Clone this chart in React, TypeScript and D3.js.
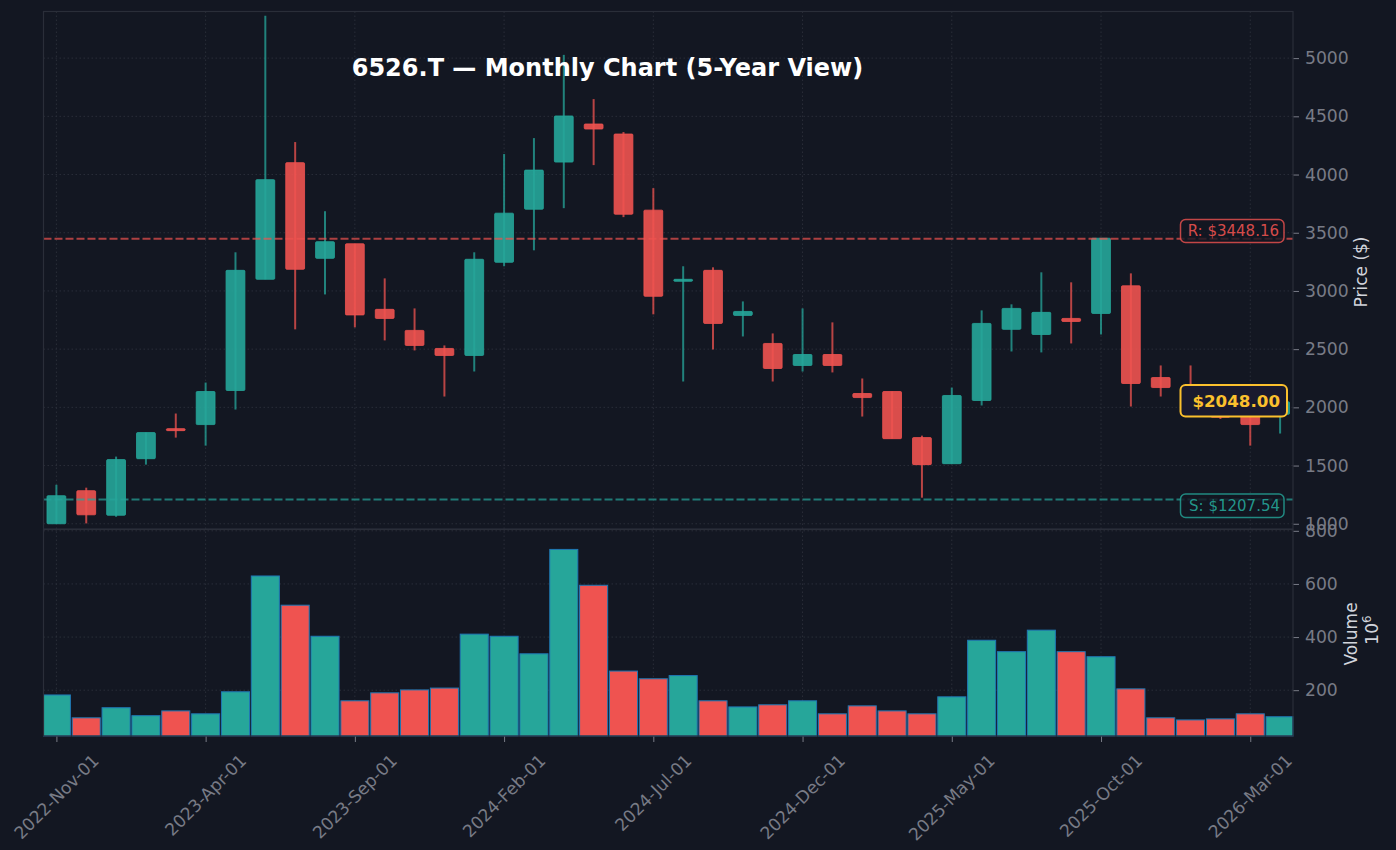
import React, { useEffect, useRef } from 'react';
import * as d3 from 'd3';

const months = [
  '2022-Nov-01', '2022-Dec-01', '2023-Jan-01', '2023-Feb-01', '2023-Mar-01', '2023-Apr-01', '2023-May-01',
  '2023-Jun-01', '2023-Jul-01', '2023-Aug-01', '2023-Sep-01', '2023-Oct-01', '2023-Nov-01', '2023-Dec-01',
  '2024-Jan-01', '2024-Feb-01', '2024-Mar-01', '2024-Apr-01', '2024-May-01', '2024-Jun-01', '2024-Jul-01',
  '2024-Aug-01', '2024-Sep-01', '2024-Oct-01', '2024-Nov-01', '2024-Dec-01', '2025-Jan-01', '2025-Feb-01',
  '2025-Mar-01', '2025-Apr-01', '2025-May-01', '2025-Jun-01', '2025-Jul-01', '2025-Aug-01', '2025-Sep-01',
  '2025-Oct-01', '2025-Nov-01', '2025-Dec-01', '2026-Jan-01', '2026-Feb-01', '2026-Mar-01', '2026-Apr-01',
];
const opens = [
  1000, 1284, 1073, 1559, 1817, 1852, 2145, 3100, 4102, 3280, 3405, 2842, 2661, 2506,
  2446, 3246, 3702, 4107, 4434, 4348, 3694, 3083, 3177, 2790, 2549, 2360, 2454, 2119,
  2136, 1740, 1516, 2059, 2670, 2626, 2764, 2807, 3044, 2256, 2170, 2030, 1960, 1940,
];
const highs = [
  1335, 1310, 1577, 1783, 1947, 2213, 3332, 5363, 4279, 3685, 3405, 3108, 2850, 2532,
  3332, 4176, 4313, 5028, 4648, 4365, 3883, 3212, 3203, 2910, 2635, 2850, 2730, 2248,
  2136, 1757, 2170, 2833, 2885, 3160, 3074, 3453, 3151, 2360, 2360, 2060, 1990, 2058,
];
const lows = [
  1000, 1003, 1060, 1508, 1740, 1671, 1981, 3100, 2670, 2970, 2687, 2575, 2489, 2093,
  2308, 3212, 3349, 3711, 4081, 3634, 2799, 2222, 2497, 2609, 2222, 2308, 2300, 1921,
  1731, 1224, 1516, 2016, 2480, 2472, 2549, 2626, 2007, 2093, 1960, 1900, 1671, 1775,
];
const closes = [
  1241, 1077, 1551, 1783, 1800, 2136, 3177, 3956, 3186, 3423, 2794, 2764, 2532, 2446,
  3272, 3668, 4038, 4503, 4391, 3659, 2954, 3100, 2721, 2824, 2334, 2454, 2360, 2084,
  1731, 1508, 2102, 2721, 2850, 2816, 2738, 3453, 2205, 2170, 2040, 1915, 1852, 2048,
];
const volumes = [
  182, 96, 134, 104, 122, 111, 194, 630, 520, 403, 160, 190, 201, 208,
  411, 403, 337, 730, 595, 272, 243, 255, 160, 137, 145, 160, 111, 141,
  122, 111, 175, 388, 345, 426, 345, 326, 205, 96, 88, 92, 111, 100,
];
const priceTicks = [1000, 1500, 2000, 2500, 3000, 3500, 4000, 4500, 5000];
const volumeTicks = [200, 400, 600, 800];
const resistance = 3448.16;
const support = 1207.54;
const lastPrice = 2048;

const BG = '#131722';
const SPINE = '#2a2e39';
const MUTED = '#787b86';
const LABEL = '#d1d4dc';
const UP = '#26a69a';
const DOWN = '#ef5350';
const GOLD = '#fbc02d';
const FONT = '"DejaVu Sans", sans-serif';

export default function App() {
  const svgRef = useRef<SVGSVGElement>(null);

  useEffect(() => {
    if (!svgRef.current) return;
    const svg = d3.select(svgRef.current);
    svg.selectAll('*').remove();

    const left = 43.5;
    const right = 1293;
    const priceTop = 11.5;
    const priceBottom = 529;
    const volTop = 529.5;
    const volBottom = 736;

    const x = d3.scaleLinear().domain([-0.432, 41.432]).range([left, right]);
    const y = d3.scaleLinear().domain([955, 5400.5]).range([priceBottom, priceTop]);
    const yVol = d3.scaleLinear().domain([27.5, 805]).range([volBottom, volTop]);
    const step = x(1) - x(0);
    const tickIdx = d3.range(0, months.length, 5);
    const isUp = (i: number) => closes[i] >= opens[i];

    // Grid, both panels
    const grid = svg.append('g')
      .attr('stroke', SPINE)
      .attr('stroke-width', 1)
      .attr('stroke-dasharray', '1.5,2.5');
    tickIdx.forEach((i) => {
      grid.append('line').attr('x1', x(i)).attr('x2', x(i)).attr('y1', priceTop).attr('y2', volBottom);
    });
    priceTicks.forEach((t) => {
      grid.append('line').attr('x1', left).attr('x2', right).attr('y1', y(t)).attr('y2', y(t));
    });
    volumeTicks.forEach((t) => {
      grid.append('line').attr('x1', left).attr('x2', right).attr('y1', yVol(t)).attr('y2', yVol(t));
    });

    // Candles
    const candleW = step * 0.63;
    const candles = svg.append('g');
    months.forEach((_, i) => {
      const color = isUp(i) ? UP : DOWN;
      candles.append('line')
        .attr('x1', x(i)).attr('x2', x(i))
        .attr('y1', y(highs[i])).attr('y2', y(lows[i]))
        .attr('stroke', color)
        .attr('stroke-width', 2)
        .attr('opacity', 0.75);
      const top = y(Math.max(opens[i], closes[i]));
      const bottom = y(Math.min(opens[i], closes[i]));
      candles.append('rect')
        .attr('x', x(i) - candleW / 2)
        .attr('y', top)
        .attr('width', candleW)
        .attr('height', Math.max(bottom - top, 1))
        .attr('rx', 1)
        .attr('fill', color)
        .attr('fill-opacity', 0.9)
        .attr('stroke', color)
        .attr('stroke-opacity', 0.8)
        .attr('stroke-width', 1);
    });

    // Support / resistance
    const levels: [number, string][] = [[resistance, DOWN], [support, UP]];
    levels.forEach(([v, c]) => {
      svg.append('line')
        .attr('x1', left).attr('x2', right)
        .attr('y1', y(v)).attr('y2', y(v))
        .attr('stroke', c)
        .attr('stroke-width', 2)
        .attr('stroke-dasharray', '8,3')
        .attr('opacity', 0.7);
    });

    // Volume bars
    const volGroup = svg.append('g');
    months.forEach((_, i) => {
      const x0 = Math.max(x(i) - step * 0.47, left);
      const x1 = Math.min(x(i) + step * 0.47, right);
      volGroup.append('rect')
        .attr('x', x0)
        .attr('y', yVol(volumes[i]))
        .attr('width', x1 - x0)
        .attr('height', volBottom - yVol(volumes[i]))
        .attr('fill', isUp(i) ? UP : DOWN)
        .attr('stroke', '#1f77b4')
        .attr('stroke-width', 1);
    });

    // Axes
    const styleAxis = (g: d3.Selection<SVGGElement, unknown, null, undefined>) => {
      g.select('.domain').remove();
      g.selectAll('.tick line').attr('stroke', MUTED).attr('stroke-width', 1);
      g.selectAll('.tick text')
        .attr('fill', MUTED)
        .style('font-family', FONT)
        .style('font-size', '17.2px');
    };
    svg.append('g')
      .attr('transform', `translate(${right},0)`)
      .call(d3.axisRight(y).tickValues(priceTicks).tickSize(6).tickPadding(6).tickFormat(d3.format('d')))
      .call(styleAxis);
    svg.append('g')
      .attr('transform', `translate(${right},0)`)
      .call(d3.axisRight(yVol).tickValues(volumeTicks).tickSize(6).tickPadding(6).tickFormat(d3.format('d')))
      .call(styleAxis);

    const xAxis = svg.append('g')
      .attr('transform', `translate(0,${volBottom})`)
      .call(
        d3.axisBottom(x)
          .tickValues(tickIdx)
          .tickSize(6)
          .tickFormat((d) => months[d as number]),
      )
      .call(styleAxis);
    // Rotated labels: bounding box centred on the tick and hung from a common top
    xAxis.selectAll<SVGTextElement, number>('.tick text').each(function () {
      const el = d3.select(this);
      el.attr('x', 0).attr('y', 0).attr('dy', '0.35em').attr('text-anchor', 'middle');
      const w = this.getComputedTextLength();
      const h = (w + 17) * Math.SQRT1_2;
      el.attr('transform', `translate(-0.5,${15.5 + h / 2}) rotate(-45)`);
    });

    // Spines
    const spines = svg.append('g').attr('fill', 'none').attr('stroke', SPINE).attr('stroke-width', 1.2);
    spines.append('rect').attr('x', left).attr('y', priceTop).attr('width', right - left).attr('height', priceBottom - priceTop);
    spines.append('rect').attr('x', left).attr('y', volTop).attr('width', right - left).attr('height', volBottom - volTop);

    // Axis titles
    const axisTitle = (tx: number, ty: number, text: string, size: number) =>
      svg.append('text')
        .attr('transform', `translate(${tx},${ty}) rotate(-90)`)
        .attr('text-anchor', 'middle')
        .attr('dominant-baseline', 'central')
        .attr('fill', LABEL)
        .style('font-family', FONT)
        .style('font-size', `${size}px`)
        .text(text);
    axisTitle(1361, 272, 'Price ($)', 17);
    axisTitle(1351, 634, 'Volume', 17);
    const power = axisTitle(1372, 630, '10', 17);
    power.append('tspan').attr('dy', '-0.45em').style('font-size', '12px').text('6');

    // Title
    svg.append('text')
      .attr('x', 607.5)
      .attr('y', 76)
      .attr('text-anchor', 'middle')
      .attr('fill', '#ffffff')
      .style('font-family', FONT)
      .style('font-size', '24px')
      .style('font-weight', 700)
      .text('6526.T \u2014 Monthly Chart (5-Year View)');

    // Boxed labels
    const boxLabel = (
      x0: number, x1: number, y0: number, y1: number, textX: number,
      text: string, color: string, size: number, weight: number, sw: number, fill: string, fillOpacity: number,
    ) => {
      svg.append('rect')
        .attr('x', x0).attr('y', y0)
        .attr('width', x1 - x0).attr('height', y1 - y0)
        .attr('rx', 5)
        .attr('fill', fill)
        .attr('fill-opacity', fillOpacity)
        .attr('stroke', color)
        .attr('stroke-opacity', sw > 1.5 ? 1 : 0.8)
        .attr('stroke-width', sw);
      svg.append('text')
        .attr('x', textX)
        .attr('y', (y0 + y1) / 2)
        .attr('text-anchor', 'end')
        .attr('dominant-baseline', 'central')
        .attr('fill', color)
        .attr('fill-opacity', sw > 1.5 ? 1 : 0.9)
        .style('font-family', FONT)
        .style('font-size', `${size}px`)
        .style('font-weight', weight)
        .text(text);
    };
    boxLabel(1180.5, 1284, 219.5, 242.5, 1279, `R: $${resistance.toFixed(2)}`, DOWN, 15, 400, 1.5, BG, 0.8);
    boxLabel(1180.5, 1284, 494, 517.5, 1280, `S: $${support.toFixed(2)}`, UP, 15, 400, 1.5, BG, 0.8);
    boxLabel(1180.5, 1287, 385, 416.5, 1280, `$${lastPrice.toFixed(2)}`, GOLD, 16.7, 700, 2, '#1a1a2e', 1);
  }, []);

  return (
    <svg
      ref={svgRef}
      width={1396}
      height={850}
      style={{ position: 'fixed', left: 0, top: 0, display: 'block', background: BG }}
    />
  );
}
